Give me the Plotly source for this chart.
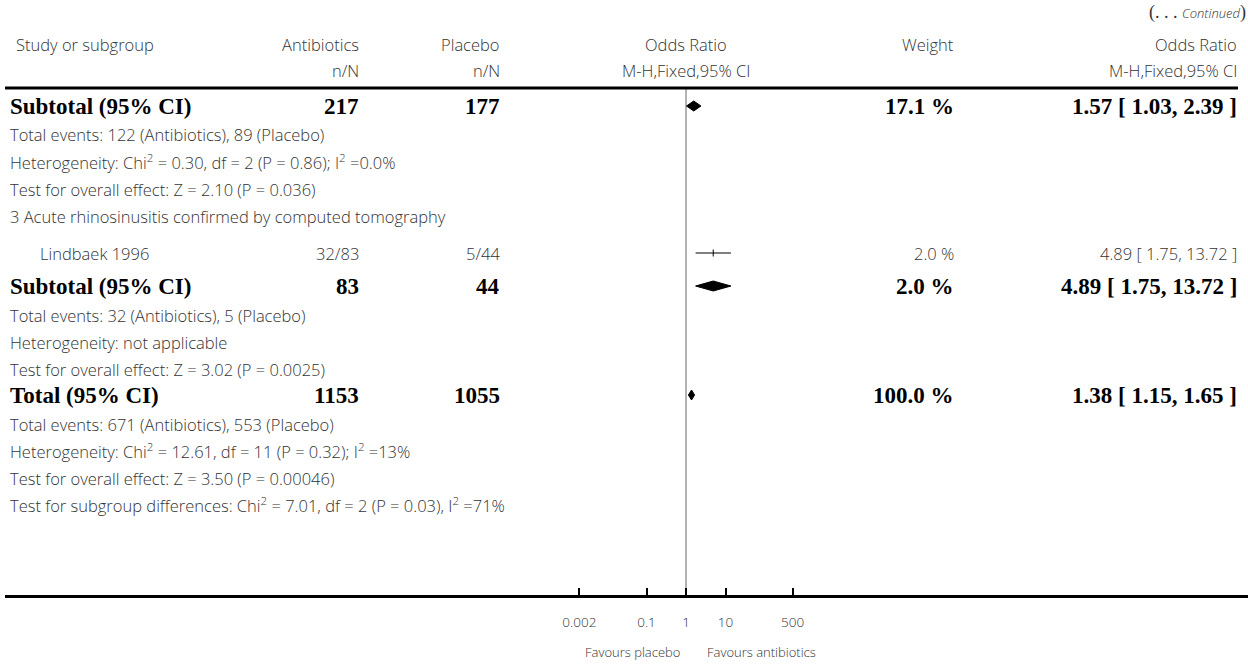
import plotly.graph_objects as go

# ---------------- data ----------------
row_text = [
    "Subtotal (95% CI)",
    "Total events: 122 (Antibiotics), 89 (Placebo)",
    "Heterogeneity: Chi<sup>2</sup> = 0.30, df = 2 (P = 0.86); I<sup>2</sup> =0.0%",
    "Test for overall effect: Z = 2.10 (P = 0.036)",
    "3 Acute rhinosinusitis confirmed by computed tomography",
    "Lindbaek 1996",
    "Subtotal (95% CI)",
    "Total events: 32 (Antibiotics), 5 (Placebo)",
    "Heterogeneity: not applicable",
    "Test for overall effect: Z = 3.02 (P = 0.0025)",
    "Total (95% CI)",
    "Total events: 671 (Antibiotics), 553 (Placebo)",
    "Heterogeneity: Chi<sup>2</sup> = 12.61, df = 11 (P = 0.32); I<sup>2</sup> =13%",
    "Test for overall effect: Z = 3.50 (P = 0.00046)",
    "Test for subgroup differences: Chi<sup>2</sup> = 7.01, df = 2 (P = 0.03), I<sup>2</sup> =71%",
]
row_kind = ["sub", "note", "note", "note", "note", "study", "sub", "note", "note", "note",
            "sub", "note", "note", "note", "note"]
antibiotics = ["217", "", "", "", "", "32/83", "83", "", "", "", "1153", "", "", "", ""]
placebo = ["177", "", "", "", "", "5/44", "44", "", "", "", "1055", "", "", "", ""]
weight = ["17.1 %", "", "", "", "", "2.0 %", "2.0 %", "", "", "", "100.0 %", "", "", "", ""]
or_label = ["1.57 [ 1.03, 2.39 ]", "", "", "", "", "4.89 [ 1.75, 13.72 ]", "4.89 [ 1.75, 13.72 ]",
            "", "", "", "1.38 [ 1.15, 1.65 ]", "", "", "", ""]
or_est = [1.57, None, None, None, None, 4.89, 4.89, None, None, None, 1.38, None, None, None, None]
or_lo = [1.03, None, None, None, None, 1.75, 1.75, None, None, None, 1.15, None, None, None, None]
or_hi = [2.39, None, None, None, None, 13.72, 13.72, None, None, None, 1.65, None, None, None, None]

tick_vals = [0.002, 0.1, 1, 10, 500]
tick_text = ["0.002", "0.1", "1", "10", "500"]

# ---------------- layout ----------------
W, H = 1248, 664
ML, MB = 5, 69
PW = W - ML
PH = H - MB
row_y = [106, 135, 162, 189, 216, 253, 286, 315, 342, 369, 395, 424, 451, 478, 505]
PX_PER_DEC = 39.5
X_ONE = 686
r0 = -(X_ONE - ML) / PX_PER_DEC
r1 = r0 + PW / PX_PER_DEC

SANS = "Open Sans"
SERIF = "Liberation Serif"
GREY = "#333333"
NS = 16.5    # normal text size
BS = 23      # bold serif size


def px(x):
    return (x - ML) / PW


def py(y):
    return (PH - y) / PH


fig = go.Figure()

# vertical line of no effect
fig.add_trace(go.Scatter(x=[1, 1], y=[88, PH], mode="lines",
                         line=dict(color="#9a9a9a", width=1.5), hoverinfo="skip"))

ann = []


def add_text(x, y, text, anchor, size, family, color=GREY, bold=False):
    ann.append(dict(x=px(x), y=py(y), xref="paper", yref="paper", text=text, showarrow=False,
                    xanchor=anchor, yanchor="middle",
                    font=dict(family=family, size=size, color=color,
                              weight="bold" if bold else 300)))


for i, t in enumerate(row_text):
    y = row_y[i]
    k = row_kind[i]
    if k == "sub":
        add_text(8, y, t, "left", BS, SERIF, "black", True)
        add_text(361, y, antibiotics[i], "right", BS, SERIF, "black", True)
        add_text(502, y, placebo[i], "right", BS, SERIF, "black", True)
        add_text(956, y, weight[i], "right", BS, SERIF, "black", True)
        add_text(1239, y, or_label[i], "right", BS, SERIF, "black", True)
        lo, est, hi = or_lo[i], or_est[i], or_hi[i]
        hh = 5
        fig.add_trace(go.Scatter(x=[lo, est, hi, est, lo], y=[y, y - hh, y, y + hh, y],
                                 mode="lines", fill="toself", fillcolor="black",
                                 line=dict(color="black", width=1), hoverinfo="skip"))
    elif k == "study":
        add_text(38, y, t, "left", NS, SANS)
        add_text(361, y, antibiotics[i], "right", NS, SANS)
        add_text(502, y, placebo[i], "right", NS, SANS)
        add_text(956, y, weight[i], "right", NS, SANS)
        add_text(1239, y, or_label[i], "right", NS, SANS)
        fig.add_trace(go.Scatter(x=[or_lo[i], or_hi[i]], y=[y, y], mode="lines",
                                 line=dict(color="black", width=1), hoverinfo="skip"))
        fig.add_trace(go.Scatter(x=[or_est[i]], y=[y], mode="markers",
                                 marker=dict(symbol="line-ns", size=5,
                                             line=dict(color="black", width=1)),
                                 hoverinfo="skip"))
    else:
        add_text(8, y, t, "left", NS, SANS)

# headers
add_text(14, 45, "Study or subgroup", "left", NS, SANS)
add_text(361, 45, "Antibiotics", "right", NS, SANS)
add_text(502, 45, "Placebo", "right", NS, SANS)
add_text(361, 70, "n/N", "right", NS, SANS)
add_text(502, 70, "n/N", "right", NS, SANS)
add_text(686, 45, "Odds Ratio", "center", NS, SANS)
add_text(686, 70, "M-H,Fixed,95% CI", "center", NS, SANS)
add_text(956, 45, "Weight", "right", NS, SANS)
add_text(1239, 45, "Odds Ratio", "right", NS, SANS)
add_text(1239, 70, "M-H,Fixed,95% CI", "right", NS, SANS)
ann.append(dict(x=1.0, y=py(12), xref="paper", yref="paper", xanchor="right", yanchor="middle",
                showarrow=False,
                text="<span style='font-family:Liberation Serif;font-size:18px'>(. . . </span>"
                     "<i>Continued</i>"
                     "<span style='font-family:Liberation Serif;font-size:18px'>)</span>",
                font=dict(family=SANS, size=13, color=GREY, weight=300)))

# favours labels
add_text(632, 652, "Favours placebo", "center", 13, SANS)
add_text(762, 652, "Favours antibiotics", "center", 13, SANS)

shapes = [dict(type="line", xref="paper", yref="paper", x0=0, x1=px(1238), y0=py(88), y1=py(88),
               line=dict(color="black", width=3))]

fig.update_layout(
    width=W, height=H,
    margin=dict(l=ML, r=0, t=0, b=MB),
    paper_bgcolor="white", plot_bgcolor="white",
    showlegend=False,
    annotations=ann, shapes=shapes,
    xaxis=dict(type="log", range=[r0, r1], showgrid=False, zeroline=False,
               showline=True, linecolor="black", linewidth=3,
               ticks="inside", ticklen=7, tickwidth=2, tickcolor="black",
               tickvals=tick_vals, ticktext=tick_text, ticklabelstandoff=13,
               tickfont=dict(family=SANS, size=13.5, color=GREY, weight=300), fixedrange=True),
    yaxis=dict(range=[PH, 0], visible=False, fixedrange=True),
)

fig.write_html("out.html", config={"displayModeBar": False})
